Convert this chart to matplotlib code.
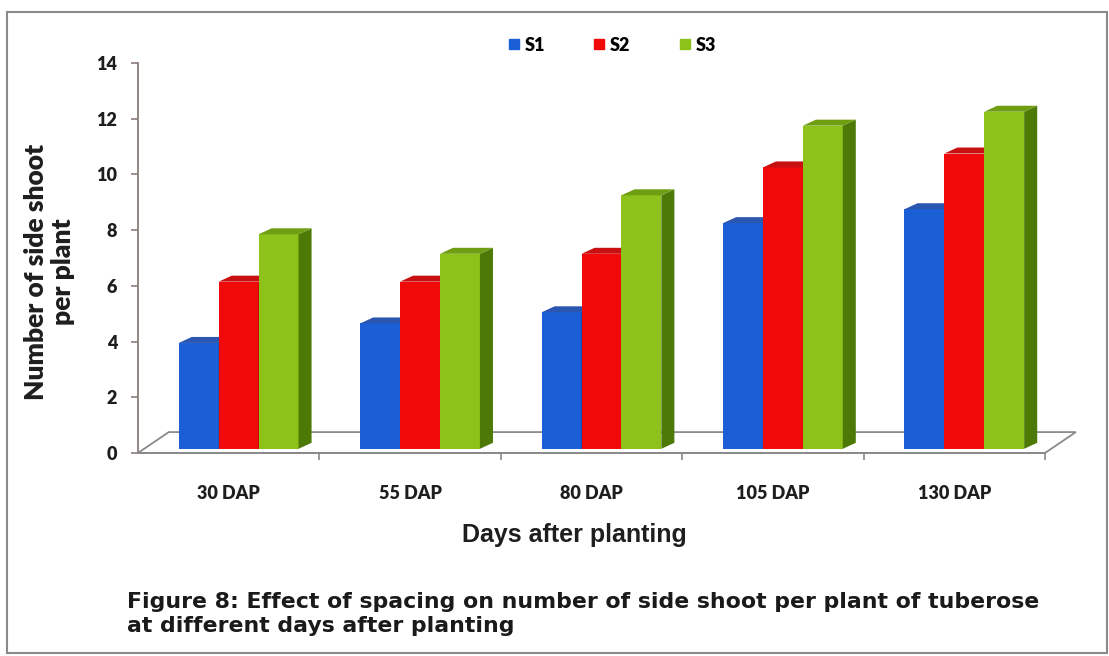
import numpy as np
import matplotlib.pyplot as plt
from matplotlib.patches import Polygon, Rectangle
from matplotlib.lines import Line2D

categories = ["30 DAP", "55 DAP", "80 DAP", "105 DAP", "130 DAP"]
series = ["S1", "S2", "S3"]
s1 = [3.8, 4.5, 4.9, 8.1, 8.6]
s2 = [6.0, 6.0, 7.0, 10.1, 10.6]
s3 = [7.7, 7.0, 9.1, 11.6, 12.1]
values = [s1, s2, s3]

front = ["#1a5fd6", "#f00a0a", "#8cc21a"]
side = ["#0d3a8c", "#a00000", "#4d7a06"]
top = ["#2a55b0", "#c81010", "#6f9e12"]

# pseudo-3D geometry in data units
bar_w = 0.22
shift = 0.055
dep_x, dep_y = 0.072, 0.215
lift = 0.15
floor_dx, floor_dy = 0.17, 0.75

fig = plt.figure(figsize=(11.09, 6.56), dpi=100)
ax = fig.add_axes([0.1244, 0.3095, 0.8179, 0.5945])
ax.set_xlim(0, len(categories))
ax.set_ylim(0, 14)

n = len(categories)
# floor
floor = Polygon([(0, 0), (n, 0), (n + floor_dx, floor_dy), (floor_dx, floor_dy)],
                closed=True, facecolor="white", edgecolor="#8a8a8a", lw=1.3,
                clip_on=False, zorder=1)
ax.add_patch(floor)

x = np.arange(n) + 0.5
for i, vals in enumerate(values):
    xc = x + (i - 1) * bar_w + shift
    ax.bar(xc, vals, width=bar_w, bottom=lift, color=front[i], zorder=3 + i,
           linewidth=0)
    for xi, v in zip(xc, vals):
        x0, x1 = xi - bar_w / 2, xi + bar_w / 2
        yt = v + lift
        ax.add_patch(Polygon([(x1, lift), (x1 + dep_x, lift + dep_y),
                              (x1 + dep_x, yt + dep_y), (x1, yt)],
                             closed=True, facecolor=side[i], lw=0,
                             zorder=3 + i, clip_on=False))
        ax.add_patch(Polygon([(x0, yt), (x1, yt), (x1 + dep_x, yt + dep_y),
                              (x0 + dep_x, yt + dep_y)],
                             closed=True, facecolor=top[i], lw=0,
                             zorder=3 + i, clip_on=False))

for s in ["top", "right"]:
    ax.spines[s].set_visible(False)
ax.spines["left"].set_color("#8c7c7c")
ax.spines["left"].set_linewidth(1.3)
ax.spines["bottom"].set_color("#8a8a8a")
ax.spines["bottom"].set_linewidth(1.3)

ax.set_yticks(range(0, 15, 2))
ax.tick_params(axis="y", direction="out", length=5, width=1.2, color="#8c7c7c",
               pad=10, labelsize=13)
for lab in ax.get_yticklabels():
    lab.set_fontweight("heavy")
    lab.set_family("Lato")
    lab.set_color("#1e1e1e")

ax.set_xticks(x)
ax.set_xticklabels(categories, fontsize=13, fontweight="heavy", family="Lato",
                   color="#1e1e1e")
ax.set_xticks(np.arange(1, n + 1), minor=True)
ax.tick_params(axis="x", which="major", length=0, pad=23)
ax.tick_params(axis="x", which="minor", direction="out", length=5, width=1.2,
               color="#8a8a8a")

ax.set_ylabel("Number of side shoot\nper plant", fontsize=19, fontweight="heavy",
              family="Lato", color="#1e1e1e", linespacing=1.15, va="center")
ax.yaxis.set_label_coords(-0.097, 0.465)
ax.set_xlabel("Days after planting", fontsize=18, fontweight="bold",
              family="Liberation Sans", color="#1e1e1e", va="center")
ax.xaxis.set_label_coords(0.481, -0.21)

handles = [Line2D([], [], marker="s", ls="", markersize=7, color=c) for c in front]
fig.legend(handles, series, loc="center", bbox_to_anchor=(0.551, 0.931), ncol=3,
           frameon=False, prop={"family": "Lato", "weight": "heavy", "size": 13},
           handletextpad=0.2, columnspacing=2.6, handlelength=0.8)

fig.text(127 / 1109, 1 - 592 / 656,
         "Figure 8: Effect of spacing on number of side shoot per plant of tuberose\n"
         "at different days after planting",
         ha="left", va="top", fontsize=15.8, fontweight="bold",
         family="DejaVu Sans", color="#1a1a1a", linespacing=1.22)

fig.patches.append(Rectangle((7 / 1109, 3 / 656), 1100 / 1109, 641 / 656,
                             transform=fig.transFigure, fill=False,
                             edgecolor="#8a8a8a", lw=1.5))

fig.savefig("out.png", dpi=100)
